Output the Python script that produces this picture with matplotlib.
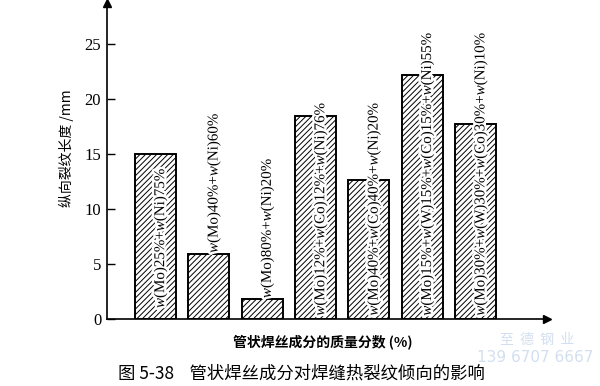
import numpy as np
import matplotlib
matplotlib.use("Agg")
import matplotlib.pyplot as plt
import matplotlib.patheffects as pe

plt.rcParams['font.family'] = ['Liberation Serif', 'Noto Sans CJK SC', 'DejaVu Sans']
plt.rcParams['mathtext.fontset'] = 'custom'
plt.rcParams['mathtext.it'] = 'Liberation Serif:italic'
plt.rcParams['mathtext.rm'] = 'Liberation Serif'
plt.rcParams['hatch.linewidth'] = 0.7

# data
compositions = [
    "$w$(Mo)25%+$w$(Ni)75%",
    "$w$(Mo)40%+$w$(Ni)60%",
    "$w$(Mo)80%+$w$(Ni)20%",
    "$w$(Mo)12%+$w$(Co)12%+$w$(Ni)76%",
    "$w$(Mo)40%+$w$(Co)40%+$w$(Ni)20%",
    "$w$(Mo)15%+$w$(W)15%+$w$(Co)15%+$w$(Ni)55%",
    "$w$(Mo)30%+$w$(W)30%+$w$(Co)30%+$w$(Ni)10%",
]
crack_length = [15.0, 5.9, 1.8, 18.4, 12.6, 22.2, 17.7]
yticks = [0, 5, 10, 15, 20, 25]

# labels that sit above the bar instead of inside it
label_on_top = [False, True, True, False, False, False, False]

fig = plt.figure(figsize=(6.0, 3.86), dpi=100)
ax = fig.add_axes([0.178, 0.1736, 0.733, 0.8186])

x = np.arange(len(crack_length))
ax.bar(x, crack_length, width=0.77, color='white', edgecolor='black',
       linewidth=1.4, hatch='//////')

halo = [pe.withStroke(linewidth=3.5, foreground='white')]
for i, (lab, h) in enumerate(zip(compositions, crack_length)):
    if label_on_top[i]:
        y0 = h + 0.1
    elif i == 0:
        y0 = 1.0
    else:
        y0 = 0.3
    ax.text(i + 0.1, y0, lab, rotation=90, ha='center', va='bottom',
            fontsize=10.8, path_effects=halo)

ax.set_xlim(-0.91, 7.33)
ax.set_ylim(0, 28.7)
ax.set_yticks(yticks)
ax.set_xticks([])
ax.tick_params(axis='y', direction='in', length=6, width=1, labelsize=12, pad=4)
for s in ['top', 'right']:
    ax.spines[s].set_visible(False)
for s in ['left', 'bottom']:
    ax.spines[s].set_linewidth(1.2)

# arrow heads on the axes
ax.plot(0, 1, marker='^', ms=6, color='black', transform=ax.transAxes, clip_on=False)
ax.plot(1, 0, marker='>', ms=6, color='black', transform=ax.transAxes, clip_on=False)

ax.set_ylabel("纵向裂纹长度 /mm", fontsize=10, family=['Noto Sans CJK SC', 'DejaVu Sans'])
ax.yaxis.set_label_coords(-0.075, 0.54)

fig.text(0.538, 0.114, "管状焊丝成分的质量分数 (%)", ha='center', va='center',
         fontsize=10, fontweight='bold', family=['Noto Sans CJK SC', 'DejaVu Sans'])
fig.text(0.197, 0.033, "图 5-38    管状焊丝成分对焊缝热裂纹倾向的影响", ha='left', va='center',
         fontsize=12.5, family=['Noto Sans CJK SC', 'DejaVu Sans'])

# faint watermark
fig.text(0.895, 0.119, "至  德  钢  业", ha='center', va='center', fontsize=10,
         color='#d3dff0', family=['Noto Sans CJK SC', 'DejaVu Sans'])
fig.text(0.892, 0.073, "139 6707 6667", ha='center', va='center', fontsize=11,
         color='#d3dff0', family=['DejaVu Sans'])

fig.savefig("out.png", dpi=100)
